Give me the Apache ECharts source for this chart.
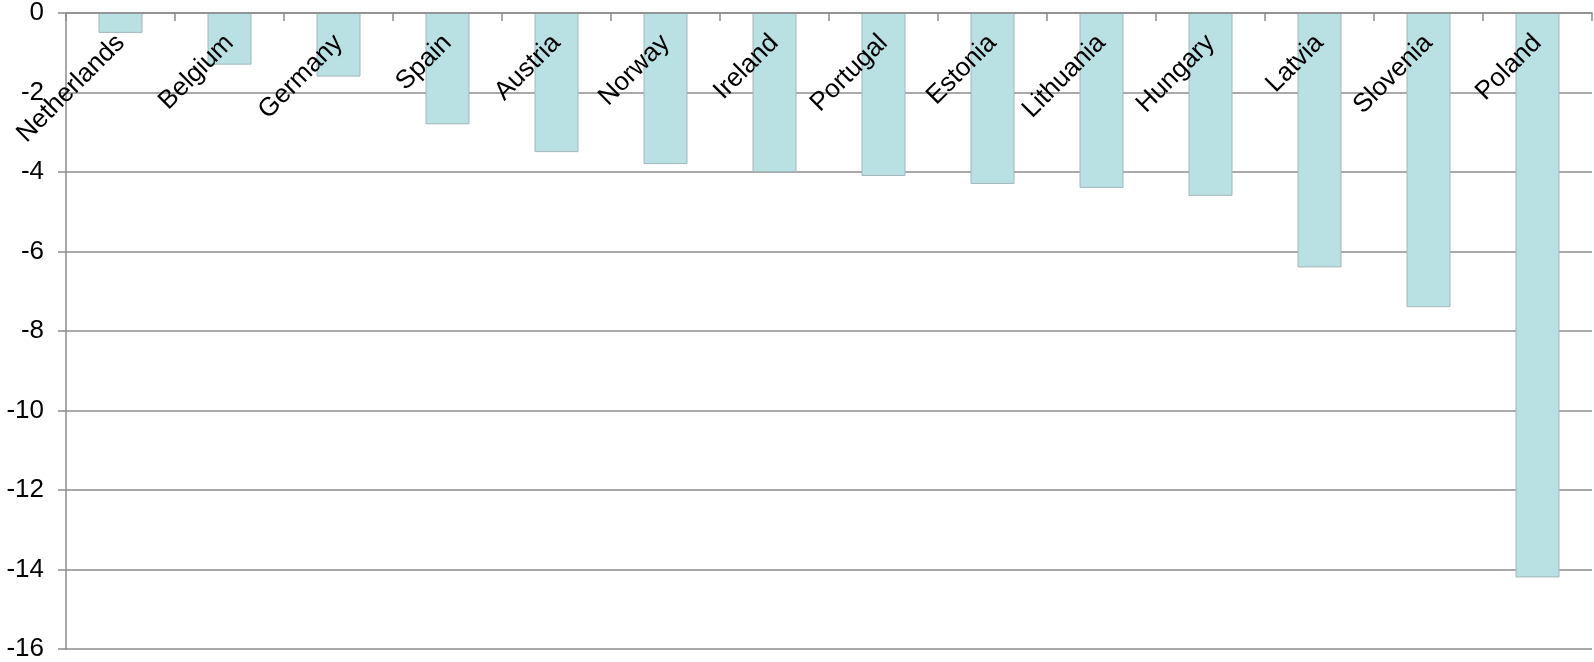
<!DOCTYPE html>
<html>
<head>
<meta charset="utf-8">
<script src="https://cdn.jsdelivr.net/npm/echarts@6/dist/echarts.min.js"></script>
<style>
html,body{margin:0;padding:0;background:#fff;}
#chart{width:1594px;height:662px;}
</style>
</head>
<body>
<div id="chart"></div>
<script>
var categories = ['Netherlands','Belgium','Germany','Spain','Austria','Norway','Ireland','Portugal','Estonia','Lithuania','Hungary','Latvia','Slovenia','Poland'];
var values = [-0.5,-1.3,-1.6,-2.8,-3.5,-3.8,-4.0,-4.1,-4.3,-4.4,-4.6,-6.4,-7.4,-14.2];
var yMin = -16, yMax = 0, yStep = 2;

var chart = echarts.init(document.getElementById('chart'), null, {renderer:'canvas'});
var axisColor = '#8c8c8c';
chart.setOption({
  animation:false,
  backgroundColor:'#ffffff',
  grid:{left:66,right:2,top:10,bottom:12,containLabel:false},
  xAxis:{
    type:'category',
    position:'top',
    z:10,
    data:categories,
    axisLine:{show:true,lineStyle:{color:axisColor,width:1.5}},
    axisTick:{show:true,inside:true,length:8,lineStyle:{color:axisColor,width:1.5}},
    axisLabel:{inside:true,rotate:45,margin:26,interval:0,color:'#000',fontFamily:'Liberation Sans, Arial, sans-serif',fontSize:26},
    splitLine:{show:false}
  },
  yAxis:{
    type:'value',
    min:yMin,max:yMax,interval:yStep,
    axisLine:{show:true,lineStyle:{color:axisColor,width:1.5}},
    axisTick:{show:true,length:8,lineStyle:{color:axisColor,width:1.5}},
    axisLabel:{margin:22,color:'#000',fontFamily:'Liberation Sans, Arial, sans-serif',fontSize:26},
    splitLine:{show:true,lineStyle:{color:axisColor,width:1.5}}
  },
  series:[{
    type:'bar',
    data:values,
    barWidth:44,
    itemStyle:{color:'#b9e0e3',borderColor:'#a3b8ba',borderWidth:1}
  }]
});
</script>
</body>
</html>
